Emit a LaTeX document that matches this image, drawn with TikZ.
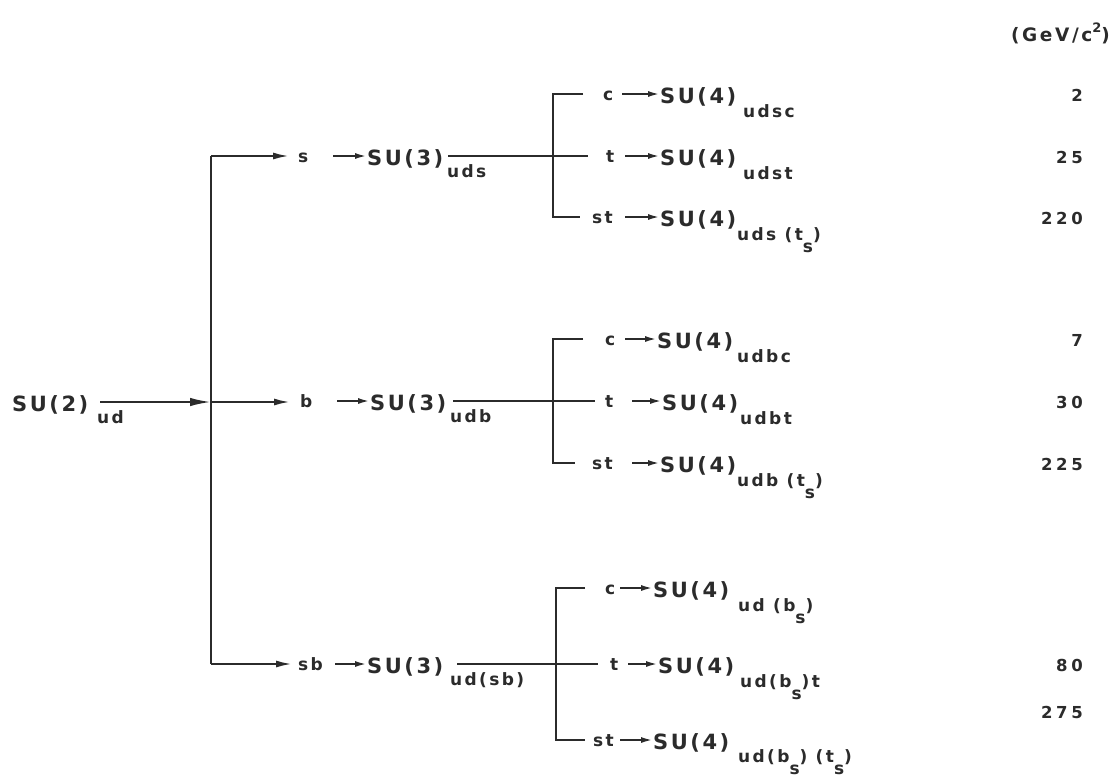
\documentclass[tikz,border=0pt]{standalone}
\usepackage{fontspec}
\usetikzlibrary{arrows.meta}
\newfontfamily\lf{DejaVu Sans Bold}[LetterSpace=12]
\newfontfamily\lfs{DejaVu Sans Bold}[LetterSpace=14]
\newfontfamily\lfn{DejaVu Sans Bold}[LetterSpace=22]
\definecolor{ink}{HTML}{2B2B2B}
\newcommand{\dn}[1]{\raisebox{-12pt}{#1}}
\tikzset{
  big/.style={inner sep=0pt, anchor=base west, text=ink, font=\lf\fontsize{21}{24}\selectfont},
  sml/.style={inner sep=0pt, anchor=base west, text=ink, font=\lfs\fontsize{17}{20}\selectfont},
  num/.style={inner sep=0pt, anchor=base east, text=ink, font=\lfn\fontsize{16.5}{20}\selectfont},
  ln/.style={line width=2.1pt, draw=ink},
  arr/.style={ln, -{Latex[length=16pt,width=7pt]}},
  barr/.style={ln, -{Latex[length=21pt,width=8.5pt]}},
  sarr/.style={ln, -{Latex[length=12pt,width=6pt]}},
}
\begin{document}
\begin{tikzpicture}[x=1pt,y=-1pt]
\useasboundingbox (0,0) rectangle (1116,780);

% unit label
\node[inner sep=0pt, anchor=base east, text=ink, font=\lfs\fontsize{18.5}{22}\selectfont] (unit) at (1110,41) {(GeV/c\raisebox{9pt}{\fontsize{13}{15}\selectfont 2})};

% root
\node[big] (su2) at (12,411) {SU(2)};
\node[sml] (su2s) at (97,423) {ud};
\coordinate (L2) at (100,402);
\coordinate (T1) at (211,156);
\coordinate (T2) at (211,402);
\coordinate (T3) at (211,664);
\draw[ln] (T1) -- (T3);
\draw[barr] (L2) -- (T2);

% ---------- group 1 ----------
\node[sml] (s) at (298,162) {s};
\draw[arr, shorten >=9pt] (T1) -- (s.west |- T1);
\coordinate (a1) at (333,156);
\node[big] (su3a) at (367,165) {SU(3)};
\draw[sarr] (a1) -- (su3a.west |- a1);
\node[sml] (su3as) at (447,177) {uds};
\coordinate (H1a) at (448,156);
\coordinate (H1b) at (588,156);
\draw[ln] (H1a) -- (H1b);
\coordinate (B1c) at (553,94);
\coordinate (B1s) at (553,217);
\coordinate (E1c) at (583,94);
\coordinate (E1s) at (580,217);
\draw[ln] (E1c) -- (B1c) -- (B1s) -- (E1s);
% c
\node[sml] (c1) at (603,100) {c};
\coordinate (c1a) at (622,94);
\node[big] (c1su) at (660,103) {SU(4)};
\draw[sarr] (c1a) -- (c1su.west |- c1a);
\node[sml] (c1sub) at (743,117) {udsc};
\node[num] (n2) at (1083,101) {2};
% t
\node[sml] (t1) at (606,162) {t};
\coordinate (t1a) at (625,156);
\node[big] (t1su) at (660,165) {SU(4)};
\draw[sarr] (t1a) -- (t1su.west |- t1a);
\node[sml] (t1sub) at (743,179) {udst};
\node[num] (n25) at (1083,163) {25};
% st
\node[sml] (st1) at (592,223) {st};
\coordinate (st1a) at (625,217);
\node[big] (st1su) at (660,226) {SU(4)};
\draw[sarr] (st1a) -- (st1su.west |- st1a);
\node[sml] (st1sub) at (737,240) {uds (t\dn{s})};
\node[num] (n220) at (1083,224) {220};

% ---------- group 2 ----------
\node[sml] (b) at (300,407) {b};
\draw[arr, shorten >=10pt] (T2) -- (b.west |- T2);
\coordinate (a2) at (337,401);
\node[big] (su3b) at (370,410) {SU(3)};
\draw[sarr] (a2) -- (su3b.west |- a2);
\node[sml] (su3bs) at (450,422) {udb};
\coordinate (H2a) at (453,401);
\coordinate (H2b) at (595,401);
\draw[ln] (H2a) -- (H2b);
\coordinate (B2c) at (553,339);
\coordinate (B2s) at (553,463);
\coordinate (E2c) at (583,339);
\coordinate (E2s) at (575,463);
\draw[ln] (E2c) -- (B2c) -- (B2s) -- (E2s);
% c
\node[sml] (c2) at (605,345) {c};
\coordinate (c2a) at (625,339);
\node[big] (c2su) at (657,348) {SU(4)};
\draw[sarr] (c2a) -- (c2su.west |- c2a);
\node[sml] (c2sub) at (737,362) {udbc};
\node[num] (n7) at (1083,346) {7};
% t
\node[sml] (t2) at (605,407) {t};
\coordinate (t2a) at (632,401);
\node[big] (t2su) at (662,410) {SU(4)};
\draw[sarr] (t2a) -- (t2su.west |- t2a);
\node[sml] (t2sub) at (740,424) {udbt};
\node[num] (n30) at (1083,408) {30};
% st
\node[sml] (st2) at (592,469) {st};
\coordinate (st2a) at (632,463);
\node[big] (st2su) at (660,472) {SU(4)};
\draw[sarr] (st2a) -- (st2su.west |- st2a);
\node[sml] (st2sub) at (737,486) {udb (t\dn{s})};
\node[num] (n225) at (1083,470) {225};

% ---------- group 3 ----------
\node[sml] (sb) at (298,670) {sb};
\draw[arr, shorten >=6pt] (T3) -- (sb.west |- T3);
\coordinate (a3) at (335,664);
\node[big] (su3c) at (367,673) {SU(3)};
\draw[sarr] (a3) -- (su3c.west |- a3);
\node[sml] (su3cs) at (450,685) {ud(sb)};
\coordinate (H3a) at (457,664);
\coordinate (H3b) at (598,664);
\draw[ln] (H3a) -- (H3b);
\coordinate (B3c) at (556,588);
\coordinate (B3s) at (556,740);
\coordinate (E3c) at (585,588);
\coordinate (E3s) at (585,740);
\draw[ln] (E3c) -- (B3c) -- (B3s) -- (E3s);
% c
\node[sml] (c3) at (605,594) {c};
\coordinate (c3a) at (620,588);
\node[big] (c3su) at (653,597) {SU(4)};
\draw[sarr] (c3a) -- (c3su.west |- c3a);
\node[sml] (c3sub) at (738,611) {ud (b\dn{s})};
% t
\node[sml] (t3) at (610,670) {t};
\coordinate (t3a) at (628,664);
\node[big] (t3su) at (658,673) {SU(4)};
\draw[sarr] (t3a) -- (t3su.west |- t3a);
\node[sml] (t3sub) at (740,687) {ud(b\dn{s})t};
\node[num] (n80) at (1083,671) {80};
% st
\node[sml] (st3) at (593,746) {st};
\coordinate (st3a) at (620,740);
\node[big] (st3su) at (653,749) {SU(4)};
\draw[sarr] (st3a) -- (st3su.west |- st3a);
\node[sml] (st3sub) at (738,762) {ud(b\dn{s}) (t\dn{s})};
\node[num] (n275) at (1083,718) {275};
\end{tikzpicture}
\end{document}
